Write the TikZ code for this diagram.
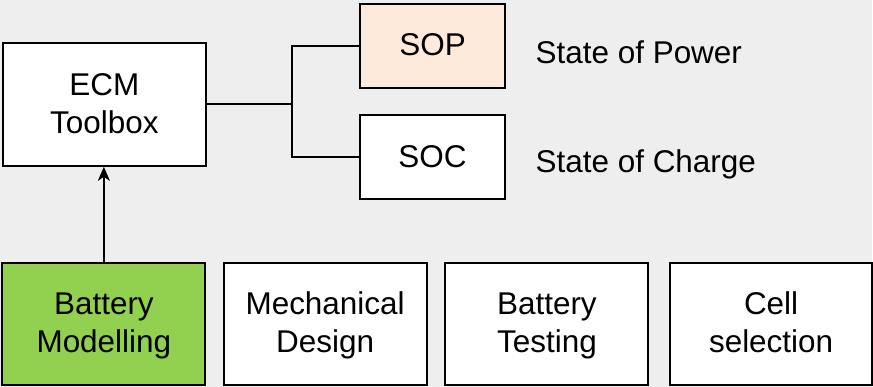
\documentclass[tikz,border=0pt]{standalone}
\usepackage{fontspec}
\setmainfont{Liberation Sans}
\usetikzlibrary{arrows.meta}
\definecolor{bggray}{HTML}{EEEEEE}
\definecolor{peachsop}{HTML}{FDEADA}
\definecolor{greenmod}{HTML}{92D050}
\newcommand{\boxstrut}{\rule[-8pt]{0pt}{36pt}}
\tikzset{every node/.append style={font=\fontsize{31.5}{38}\selectfont}}

\begin{document}
\begin{tikzpicture}[x=1pt,y=1pt,>=Stealth,
    block/.style={draw=black,fill=white,line width=2pt,align=center,
      minimum width=203pt,minimum height=122pt,inner sep=0pt},
    smallblock/.style={block,minimum width=146pt,minimum height=84pt},
    link/.style={line width=2pt}]
  \fill[bggray] (0,0) rectangle (873,387);
  % upper part
  \node[block,minimum height=123pt] (ecm) at (104.5,282.5) {\boxstrut ECM\\\boxstrut Toolbox};
  \node[smallblock,fill=peachsop] (sop) at (433,341) {\boxstrut SOP};
  \node[smallblock] (soc) at (433,229.5) {\boxstrut SOC};
  \node[anchor=base west,inner sep=0pt] (sopname) at (536,323) {State of Power};
  \node[anchor=base west,inner sep=0pt] (socname) at (536,214) {State of Charge};
  \coordinate (split) at (292,0);
  \draw[link] (ecm.east) -- (ecm.east -| split);
  \draw[link] (sop.west) -| (split |- ecm.east) |- (soc.west);
  % lower row
  \node[block,fill=greenmod] (model) at (104,63) {\boxstrut Battery\\\boxstrut Modelling};
  \node[block] (mech) at (325.5,63) {\boxstrut Mechanical\\\boxstrut Design};
  \node[block] (test) at (547.5,63) {\boxstrut Battery\\\boxstrut Testing};
  \node[block,minimum width=202pt] (cell) at (772,63) {\boxstrut Cell\\\boxstrut selection};
  \draw[link,->,>={Stealth[length=14pt,width=12pt,inset=4pt]}] (model.north) -- (model.north |- ecm.south);
\end{tikzpicture}
\end{document}
